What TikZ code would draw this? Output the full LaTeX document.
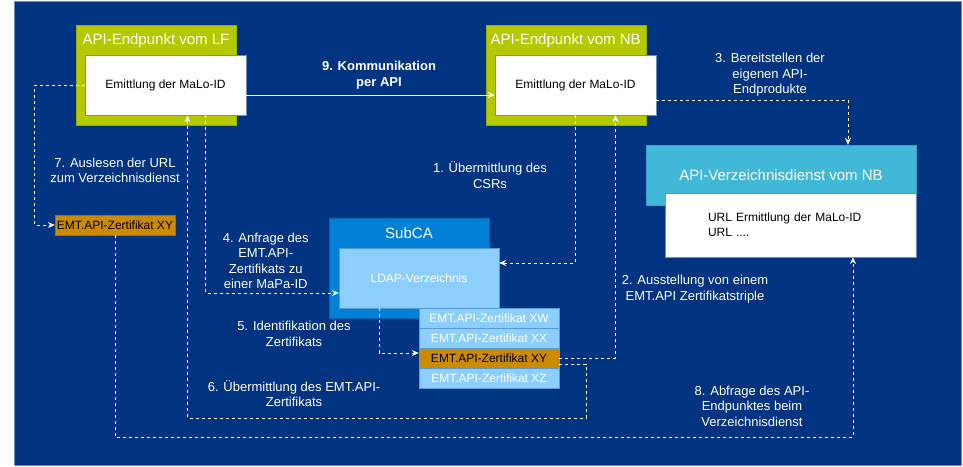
\documentclass[tikz,border=0pt]{standalone}
\usepackage{fontspec}
\setmainfont{Liberation Sans}
\usetikzlibrary{arrows.meta}
\definecolor{bgblue}{HTML}{003380}
\definecolor{bgedge}{HTML}{6C8EBF}
\definecolor{lime}{HTML}{B5C900}
\definecolor{limeedge}{HTML}{9AAB00}
\definecolor{boxedge}{HTML}{6C8EBF}
\definecolor{verzblue}{HTML}{42B8D8}
\definecolor{verzedge}{HTML}{3A9FC0}
\definecolor{subcablue}{HTML}{0080D6}
\definecolor{subcaedge}{HTML}{006BB3}
\definecolor{ldapblue}{HTML}{8CCFFF}
\definecolor{certedge}{HTML}{5B9BD5}
\definecolor{ocker}{HTML}{CC8A00}
\definecolor{ockeredge}{HTML}{A87000}

\begin{document}
\begin{tikzpicture}[x=1pt, y=-1pt, >={Stealth[length=7pt,width=6pt,inset=2.5pt]},
	endpunkt/.style={draw=limeedge, fill=lime, minimum width=160pt, minimum height=100pt, inner sep=0pt},
	weiss/.style={draw=boxedge, fill=white, inner sep=0pt, font=\fontsize{12}{15}\selectfont},
	titel/.style={text=white, inner sep=0pt, font=\fontsize{15}{17}\selectfont},
	zert/.style={draw=certedge, fill=ldapblue, minimum width=140pt, minimum height=20pt, inner sep=0pt, text=white, font=\fontsize{12}{14}\selectfont},
	schritt/.style={text=white, align=center, inner sep=0pt, font=\fontsize{13}{15.5}\selectfont},
	fluss/.style={draw=white, line width=1pt, dash pattern=on 3pt off 3pt, ->}]
	\useasboundingbox (0,0) rectangle (963,466);
	\filldraw[fill=bgblue, draw=bgedge] (14,1) rectangle (961,465);
	\node[endpunkt] (lf) at (156,75) {};
	\node[titel] (lftitel) at (156,41) {API-Endpunkt vom LF};
	\node[weiss, minimum width=161pt, minimum height=60pt] (lfin) at (165.5,85) {Emittlung der MaLo-ID};
	\node[endpunkt] (nb) at (565.7,75) {};
	\node[titel] (nbtitel) at (565.7,41) {API-Endpunkt vom NB};
	\node[weiss, minimum width=161pt, minimum height=60pt] (nbin) at (575.5,85) {Emittlung der MaLo-ID};
	\node[titel, draw=verzedge, fill=verzblue, minimum width=270pt, minimum height=60pt] (verz) at (781,175) {API-Verzeichnisdienst vom NB};
	\node[weiss, minimum width=251pt, minimum height=64pt, align=left, text width=165pt] (verzin) at (790.5,225) {URL Ermittlung der MaLo-ID\\URL ....};
	\node[draw=subcaedge, fill=subcablue, minimum width=160pt, minimum height=100pt] (subca) at (409,268) {};
	\node[titel] (subcatitel) at (409,233) {SubCA};
	\node[zert, minimum width=160pt, minimum height=60pt] (ldap) at (419,278) {LDAP-Verzeichnis};
	\node[zert] (xw) at (489,318) {EMT.API-Zertifikat XW};
	\node[zert] (xx) at (489,338) {EMT.API-Zertifikat XX};
	\node[zert, fill=ocker, text=black] (xy) at (489,358) {EMT.API-Zertifikat XY};
	\node[zert] (xz) at (489,378) {EMT.API-Zertifikat XZ};
	\node[zert, fill=ocker, draw=ockeredge, text=black, minimum width=120pt] (lfxy) at (115,225) {EMT.API-Zertifikat XY};
	\draw[white, line width=1pt, ->] ([yshift=-10pt]lfin.east) -- ([yshift=-10pt]nbin.west);
	\draw[fluss] (nbin.south) |- ([yshift=15pt]ldap.east);
	\draw[fluss] (xy.east) -| ([xshift=40pt]nbin.south);
	\draw[fluss] ([yshift=-15pt]nbin.east) -| ([xshift=67pt]verz.north);
	\draw[fluss] ([xshift=40pt]lfin.south) |- ([yshift=-15pt]ldap.west);
	\draw[fluss] ([xshift=-40pt]ldap.south) |- ([yshift=5pt]xy.west);
	\coordinate (knick6) at (586,418);
	\draw[fluss] ([yshift=-6pt]xy.east) -| (knick6) -| ([xshift=22pt]lfin.south);
	\draw[fluss] (lfin.west) -| ([xshift=-20pt]lfxy.west) -- (lfxy.west);
	\coordinate (knick8) at (853,437);
	\draw[fluss] (lfxy.south) |- (knick8) -- (knick8 |- verzin.south);
	\node[schritt, font=\bfseries\fontsize{13}{16}\selectfont] (l9) at (379,75) {9. Kommunikation\\per API};
	\node[schritt] (l3) at (770,75) {3. Bereitstellen der\\eigenen API-\\Endprodukte};
	\node[schritt] (l1) at (490,175) {1. Übermittlung des\\CSRs};
	\node[schritt] (l7) at (115,170.5) {7. Auslesen der URL\\zum Verzeichnisdienst};
	\node[schritt] (l4) at (265.7,260.7) {4. Anfrage des\\EMT.API-\\Zertifikats zu\\einer MaPa-ID};
	\node[schritt] (l5) at (294,333.7) {5. Identifikation des\\Zertifikats};
	\node[schritt] (l2) at (695,289.3) {2. Ausstellung von einem\\EMT.API Zertifikatstriple};
	\node[schritt] (l6) at (294,393.7) {6. Übermittlung des EMT.API-\\Zertifikats};
	\node[schritt] (l8) at (752,406) {8. Abfrage des API-\\Endpunktes beim\\Verzeichnisdienst};
\end{tikzpicture}
\end{document}
